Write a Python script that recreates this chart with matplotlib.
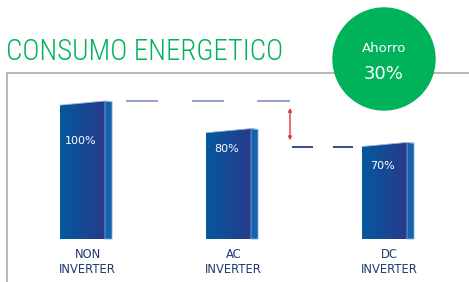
import numpy as np
import matplotlib.pyplot as plt
from matplotlib.colors import to_rgb
from matplotlib.patches import Polygon, Circle, FancyArrowPatch

# datos
categorias = ['NON\nINVERTER', 'AC\nINVERTER', 'DC\nINVERTER']
consumo = [100, 80, 70]
etiquetas = ['100%', '80%', '70%']
ahorro = '30%'

# layout (pixeles de la imagen original)
W, H = 469, 282
x_izq = [60, 206, 362]      # borde izquierdo de la cara frontal
etiq_py = [141, 149, 166]   # altura de las etiquetas de porcentaje
ancho = 45
lado = 7
base_px = 239
px_por_unidad = 1.38
inclinacion = 3             # el borde superior baja hacia la izquierda

VERDE = '#00b259'
AZUL_TXT = '#1f3a6e'
FUENTE_TIT = ['Roboto Condensed', 'Open Sans Condensed', 'Asap Condensed', 'Lato']

fig = plt.figure(figsize=(W / 100, H / 100), dpi=100)
ax = fig.add_axes([0, 0, 1, 1])
ax.set_xlim(0, W)
ax.set_ylim(-(H - base_px) / px_por_unidad, base_px / px_por_unidad)
ax.axis('off')

def a_valor(py):
    return (base_px - py) / px_por_unidad

def gradiente(ax, x0, x1, y0, y1, c0, c1, clip):
    c0, c1 = np.array(to_rgb(c0)), np.array(to_rgb(c1))
    t = np.linspace(0, 1, 64)
    img = (c0[None, :] * (1 - t[:, None]) + c1[None, :] * t[:, None])[None, :, :]
    im = ax.imshow(img, extent=[x0, x1, y0, y1], aspect='auto', zorder=2,
                   interpolation='bilinear')
    im.set_clip_path(clip)

for i, v in enumerate(consumo):
    x0 = x_izq[i]
    x1 = x0 + ancho
    # cara frontal
    frente = Polygon([[x0, 0], [x1, 0], [x1, v], [x0, v - inclinacion]],
                     closed=True, facecolor='none', edgecolor='none', zorder=2)
    ax.add_patch(frente)
    gradiente(ax, x0, x1, 0, v, '#04599f', '#283a8b', frente)
    # cara lateral
    ax.add_patch(Polygon([[x1, 0], [x1 + lado, 0], [x1 + lado, v - 0.6], [x1, v]],
                         closed=True, facecolor='#1663ad', edgecolor='#7fa6d6',
                         linewidth=0.6, zorder=3))
    ax.plot([x0, x1, x1 + lado], [v - inclinacion, v, v - 0.6],
            color='#9bb6dd', linewidth=0.6, zorder=4)
    ax.text(x0 + ancho / 2 - 2, a_valor(etiq_py[i]), etiquetas[i], color='white',
            fontsize=8, ha='center', va='center', zorder=5)
    ax.text(x0 + ancho / 2 + 5, a_valor(262), categorias[i], color=AZUL_TXT,
            fontsize=8.3, ha='center', va='center', linespacing=1.25, zorder=5)

# lineas de referencia
ax.hlines([consumo[0]] * 3, [126, 192, 257], [158, 224, 290],
          colors='#8b9bc7', linewidth=1.3, zorder=2)
ax.hlines([consumo[2] - inclinacion] * 2, [292, 333], [313, 353],
          colors='#283a8b', linewidth=1.3, zorder=2)
ax.add_patch(FancyArrowPatch((290, consumo[0] - 3), (290, consumo[2] - 0.5),
                             arrowstyle='<|-|>', mutation_scale=5,
                             color='#e0353c', linewidth=1, zorder=3))

# marco y titulo (coordenadas de figura)
fy = lambda py: 1 - py / H
fx = lambda px: px / W
fig.add_artist(plt.Line2D([fx(7), fx(7)], [fy(73), 0], color='#b3b3b3', linewidth=1.3))
fig.add_artist(plt.Line2D([fx(7), 1], [fy(73), fy(73)], color='#b3b3b3', linewidth=1.3))
fig.text(fx(6), fy(52), 'CONSUMO ENERGETICO', color=VERDE, fontsize=20.8,
         family=FUENTE_TIT, fontweight='light', ha='left', va='center')

circ = Circle((3.84, (H - 59) / 100), 0.51, transform=fig.dpi_scale_trans,
              color=VERDE, zorder=10)
fig.add_artist(circ)
fig.text(fx(384), fy(48), 'Ahorro', color='white', fontsize=9.5, ha='center',
         va='center', zorder=11)
fig.text(fx(384), fy(74), ahorro, color='white', fontsize=13, ha='center',
         va='center', zorder=11)

fig.savefig('out.png', dpi=100)
